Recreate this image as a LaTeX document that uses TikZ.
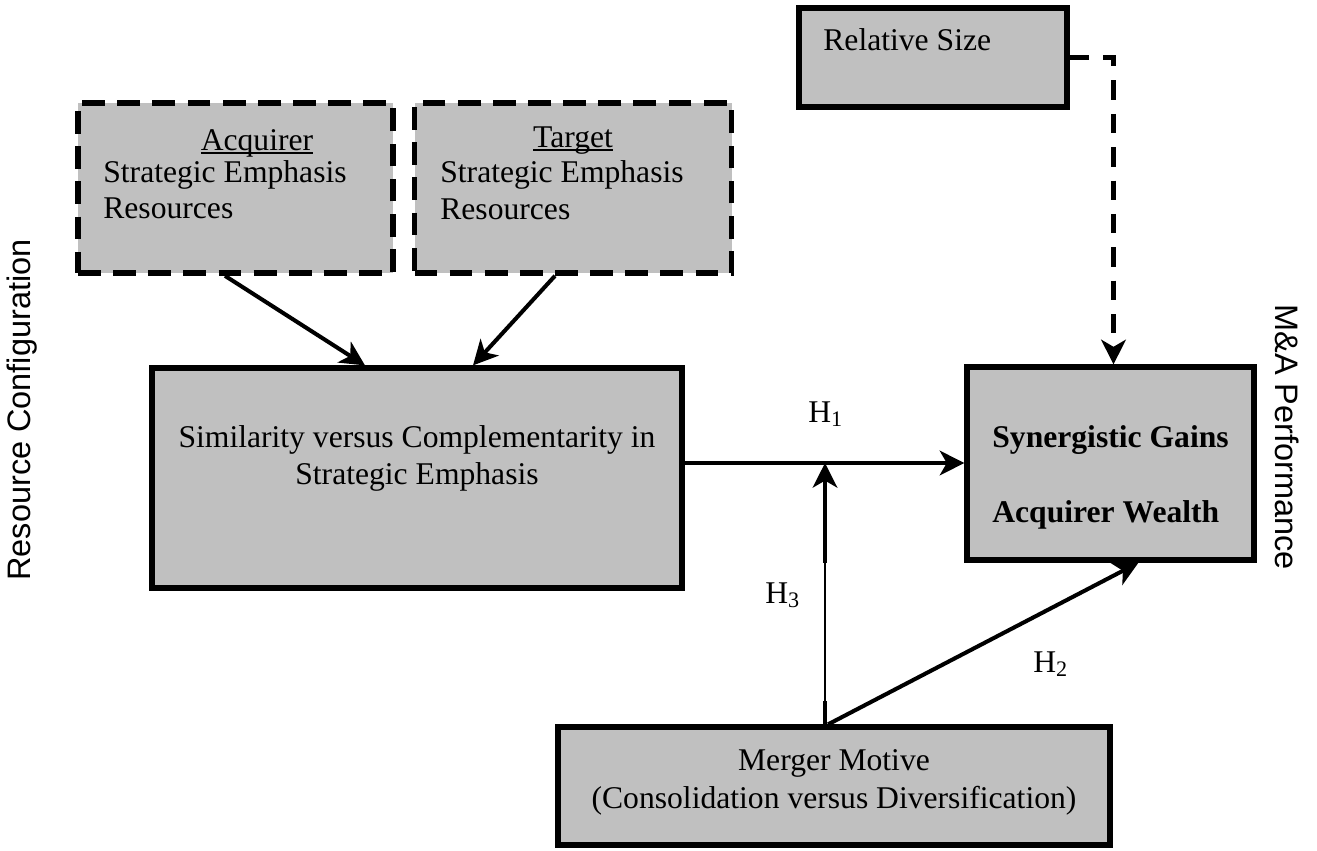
\documentclass[tikz,border=0pt]{standalone}
\usepackage{fontspec}
\setmainfont{Liberation Serif}
\newfontfamily\sansf{Liberation Sans}
\usetikzlibrary{arrows.meta,calc}
\definecolor{boxgray}{RGB}{192,192,192}
\newcommand\myul[1]{\setbox0\hbox{#1}\rlap{\rule[-2.4pt]{\wd0}{1pt}}\box0}
\begin{document}
\begin{tikzpicture}[x=0.02cm,y=-0.02cm,
  box/.style={draw=black, fill=boxgray, line width=3pt, inner sep=0pt, rectangle},
  dbox/.style={box, line width=3.2pt, dash pattern=on 13pt off 7pt},
  txt/.style={font=\fontsize{18}{21}\selectfont, inner sep=0pt},
  btxt/.style={font=\fontsize{18}{21}\selectfont\bfseries, inner sep=0pt},
  side/.style={font=\sansf\fontsize{18.5}{21}\selectfont, inner sep=0pt},
  arr/.style={line width=2.3pt, -{Stealth[length=14pt,width=14pt,inset=4pt]}},
  thinln/.style={line width=1.1pt},
  darr/.style={line width=2.6pt, dash pattern=on 11pt off 8pt, -{Stealth[length=14pt,width=14pt,inset=4pt]}}]
\useasboundingbox (0,0) rectangle (1317,850);

% boxes
\node[dbox, minimum width=315*0.02cm, minimum height=170*0.02cm] (acq) at (235.5,188) {};
\node[dbox, minimum width=317*0.02cm, minimum height=170*0.02cm] (tgt) at (573,188) {};
\node[box, minimum width=268*0.02cm, minimum height=99*0.02cm] (rel) at (933,57.5) {};
\node[box, minimum width=530*0.02cm, minimum height=220*0.02cm] (sim) at (417,478) {};
\node[box, minimum width=287*0.02cm, minimum height=193*0.02cm] (syn) at (1110.5,463.5) {};
\node[box, minimum width=552*0.02cm, minimum height=118*0.02cm] (mot) at (834,786) {};

% box texts
\node[txt, anchor=base] (acqT) at (257,150) {\myul{Acquirer}};
\node[txt, anchor=base west] (acqA) at (103,182) {Strategic Emphasis};
\node[txt, anchor=base west] (acqB) at (103,218) {Resources};
\node[txt, anchor=base] (tgtT) at (573,147) {\myul{Target}};
\node[txt, anchor=base west] (tgtA) at (440,182) {Strategic Emphasis};
\node[txt, anchor=base west] (tgtB) at (440,219) {Resources};
\node[txt, anchor=base west] (relT) at (823,50) {Relative Size};
\node[txt, anchor=base] (simA) at (417,447) {Similarity versus Complementarity in};
\node[txt, anchor=base] (simB) at (417,484) {Strategic Emphasis};
\node[btxt, anchor=base west] (synA) at (992,447) {Synergistic Gains};
\node[btxt, anchor=base west] (synB) at (992,522) {Acquirer Wealth};
\node[txt, anchor=base] (motA) at (834,770) {Merger Motive};
\node[txt, anchor=base] (motB) at (834,808) {(Consolidation versus Diversification)};

% hypothesis labels
\node[txt, anchor=base west] (H1) at (808,422) {H\textsubscript{1}};
\node[txt, anchor=base west] (H3) at (765,603) {H\textsubscript{3}};
\node[txt, anchor=base west] (H2) at (1033,672) {H\textsubscript{2}};

% side labels
\node[side, rotate=90] (rc) at (22,410) {Resource Configuration};
\node[side, rotate=-90] (map) at (1287,437) {M\&A Performance};

% connectors
\draw[arr] ($(acq.south)+(-10.5,0)$) -- ($(sim.north)+(-52,0)$);
\draw[arr] ($(tgt.south)+(-18,0)$) -- ($(sim.north)+(56,0)$);
\coordinate (h1s) at ($(sim.east)+(0,-15)$);
\draw[arr] (h1s) -- (h1s -| syn.west);
\coordinate (m3) at ($(mot.north)+(-9,0)$);
\coordinate (m3a) at ($(m3)+(0,-23)$);
\coordinate (m3b) at (m3 |- syn.south);
\draw[line width=2.3pt] (m3) -- (m3a);
\draw[thinln] (m3a) -- (m3b);
\draw[arr] (m3b) -- (m3 |- h1s);
\draw[arr] ($(mot.north)+(-6,0)$) -- ($(syn.south)+(28,0)$);
\draw[darr] (rel.east) -| ($(syn.north)+(3,0)$);
\end{tikzpicture}
\end{document}
